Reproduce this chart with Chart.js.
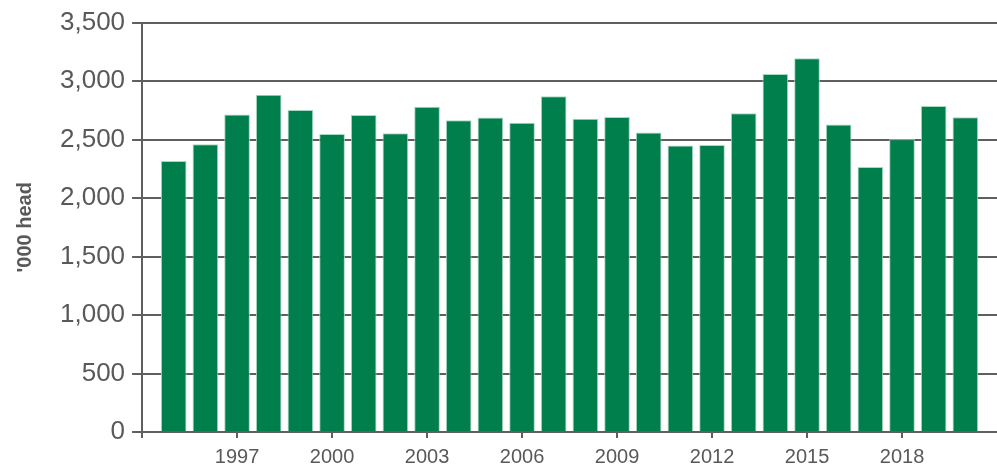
<!DOCTYPE html>
<html>
<head>
<meta charset="utf-8">
<script src="https://cdn.jsdelivr.net/npm/chart.js@4"></script>
<style>
  html, body { margin: 0; padding: 0; background: #fff; overflow: hidden; }
  #wrap { width: 997px; height: 470px; }
</style>
</head>
<body>
<div id="wrap"><canvas id="headChart"></canvas></div>
<script>
// Cattle numbers by year ('000 head)
const years = [1995, 1996, 1997, 1998, 1999, 2000, 2001, 2002, 2003, 2004, 2005, 2006, 2007,
  2008, 2009, 2010, 2011, 2012, 2013, 2014, 2015, 2016, 2017, 2018, 2019, 2020];
const head = [2316, 2460, 2714, 2883, 2753, 2547, 2711, 2553, 2781, 2666, 2688, 2643, 2871,
  2677, 2694, 2561, 2449, 2454, 2725, 3060, 3196, 2629, 2266, 2502, 2787, 2691];
const tickYears = [1994, 1997, 2000, 2003, 2006, 2009, 2012, 2015, 2018];
const yTicks = [0, 500, 1000, 1500, 2000, 2500, 3000, 3500];

const grey = '#5f5f5f';
const textGrey = '#595959';

let ctx = document.getElementById('headChart');
let headChart = new Chart(ctx, {
  type: 'bar',
  data: {
    datasets: [{
      label: "'000 head",
      data: years.map((y, i) => ({ x: y, y: head[i] })),
      backgroundColor: '#007e4c',
      borderColor: '#a6d9c0',
      borderWidth: 1,
      barPercentage: 0.9,
      categoryPercentage: 0.9
    }]
  },
  options: {
    responsive: true,
    maintainAspectRatio: false,
    animation: false,
    layout: { autoPadding: false, padding: { left: 13, top: 4, right: 0, bottom: -6 } },
    plugins: {
      legend: { display: false },
      tooltip: { enabled: false }
    },
    scales: {
      x: {
        type: 'linear',
        offset: false,
        min: 1994,
        max: 2021,
        afterBuildTicks: (scale) => { scale.ticks = tickYears.map(v => ({ value: v })); },
        grid: { offset: false, drawOnChartArea: false, drawTicks: true, tickLength: 6, color: grey, lineWidth: 2 },
        border: { color: grey, width: 2 },
        ticks: {
          autoSkip: false,
          maxRotation: 0,
          padding: 7,
          color: textGrey,
          font: { family: 'Liberation Sans', size: 20 },
          callback: (v) => v === 1994 ? '' : String(v)
        }
      },
      y: {
        min: 0,
        max: 3500,
        afterBuildTicks: (scale) => { scale.ticks = yTicks.map(v => ({ value: v })); },
        grid: { color: grey, lineWidth: 2, tickLength: 10 },
        border: { color: grey, width: 2 },
        ticks: {
          padding: 7,
          color: textGrey,
          font: { family: 'Liberation Sans', size: 26 },
          callback: (v) => v.toLocaleString('en-US')
        },
        title: {
          display: true,
          text: "'000 head",
          color: textGrey,
          font: { family: 'Liberation Sans', size: 20, weight: 'bold' },
          padding: { top: 0, bottom: 16 }
        }
      }
    }
  }
});
</script>
</body>
</html>
